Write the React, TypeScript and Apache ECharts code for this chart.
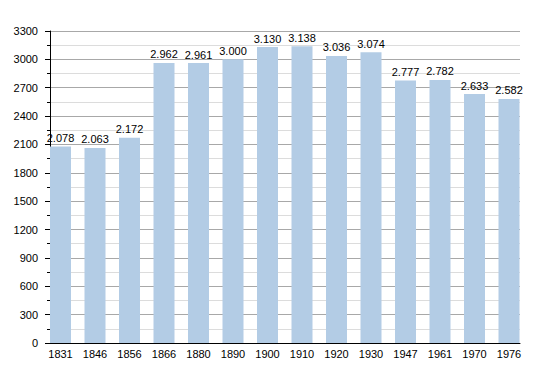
import React, { useEffect, useRef } from "react";
import * as echarts from "echarts";

const years = ["1831", "1846", "1856", "1866", "1880", "1890", "1900", "1910", "1920", "1930", "1947", "1961", "1970", "1976"];
const population = [2078, 2063, 2172, 2962, 2961, 3000, 3130, 3138, 3036, 3074, 2777, 2782, 2633, 2582];
const yMax = 3300;
const yStep = 300;

const FONT = "'Liberation Sans', Arial, Helvetica, sans-serif";

function fmt(v: number): string {
  const th = Math.floor(v / 1000);
  const rest = v % 1000;
  if (th === 0) return String(v);
  return th + "." + String(rest).padStart(3, "0");
}

export default function App() {
  const ref = useRef<HTMLDivElement>(null);
  useEffect(() => {
    document.body.style.margin = "0";
    const chart = echarts.init(ref.current!, null, { renderer: "svg" });
    chart.setOption({
      animation: false,
      backgroundColor: "#ffffff",
      grid: [
        { left: 43.25, top: 31, width: 483, height: 312 },
        { left: 50, top: 31, width: 470, height: 312 },
      ],
      xAxis: [
        {
          type: "category",
          gridIndex: 0,
          data: years,
          axisLine: { show: false },
          axisTick: { show: false },
          axisLabel: { color: "#000", fontSize: 11, fontFamily: FONT, margin: 5 },
        },
        {
          type: "category",
          gridIndex: 1,
          data: years,
          axisLine: { show: true, lineStyle: { color: "#000", width: 1 } },
          axisTick: { show: false },
          axisLabel: { show: false },
        },
      ],
      yAxis: [
        { type: "value", gridIndex: 0, min: 0, max: yMax, interval: yStep, show: false },
        {
          type: "value",
          gridIndex: 1,
          min: 0,
          max: yMax,
          interval: yStep,
          axisLine: { show: true, lineStyle: { color: "#000", width: 1 } },
          axisTick: { show: true, length: 5, lineStyle: { color: "#000" } },
          minorTick: { show: true, splitNumber: 2, length: 3, lineStyle: { color: "#000" } },
          axisLabel: {
            color: "#000",
            fontSize: 11,
            fontFamily: FONT,
            margin: 12,
            formatter: (v: number) => String(v),
          },
          splitLine: { show: true, lineStyle: { color: "#a8a8a8", width: 1 } },
          minorSplitLine: { show: true, lineStyle: { color: "#dcdcdc", width: 1 } },
        },
      ],
      series: [
        {
          type: "bar",
          xAxisIndex: 0,
          yAxisIndex: 0,
          data: population,
          barWidth: 21,
          itemStyle: { color: "#b3cce5" },
          label: {
            show: true,
            position: "top",
            distance: 3,
            color: "#000",
            fontSize: 11,
            fontFamily: FONT,
            formatter: (p: any) => fmt(p.value),
          },
          z: 3,
        },
        {
          type: "line",
          xAxisIndex: 1,
          yAxisIndex: 1,
          data: [],
        },
      ],
    });
    return () => chart.dispose();
  }, []);
  return <div ref={ref} style={{ width: 550, height: 373 }} />;
}
